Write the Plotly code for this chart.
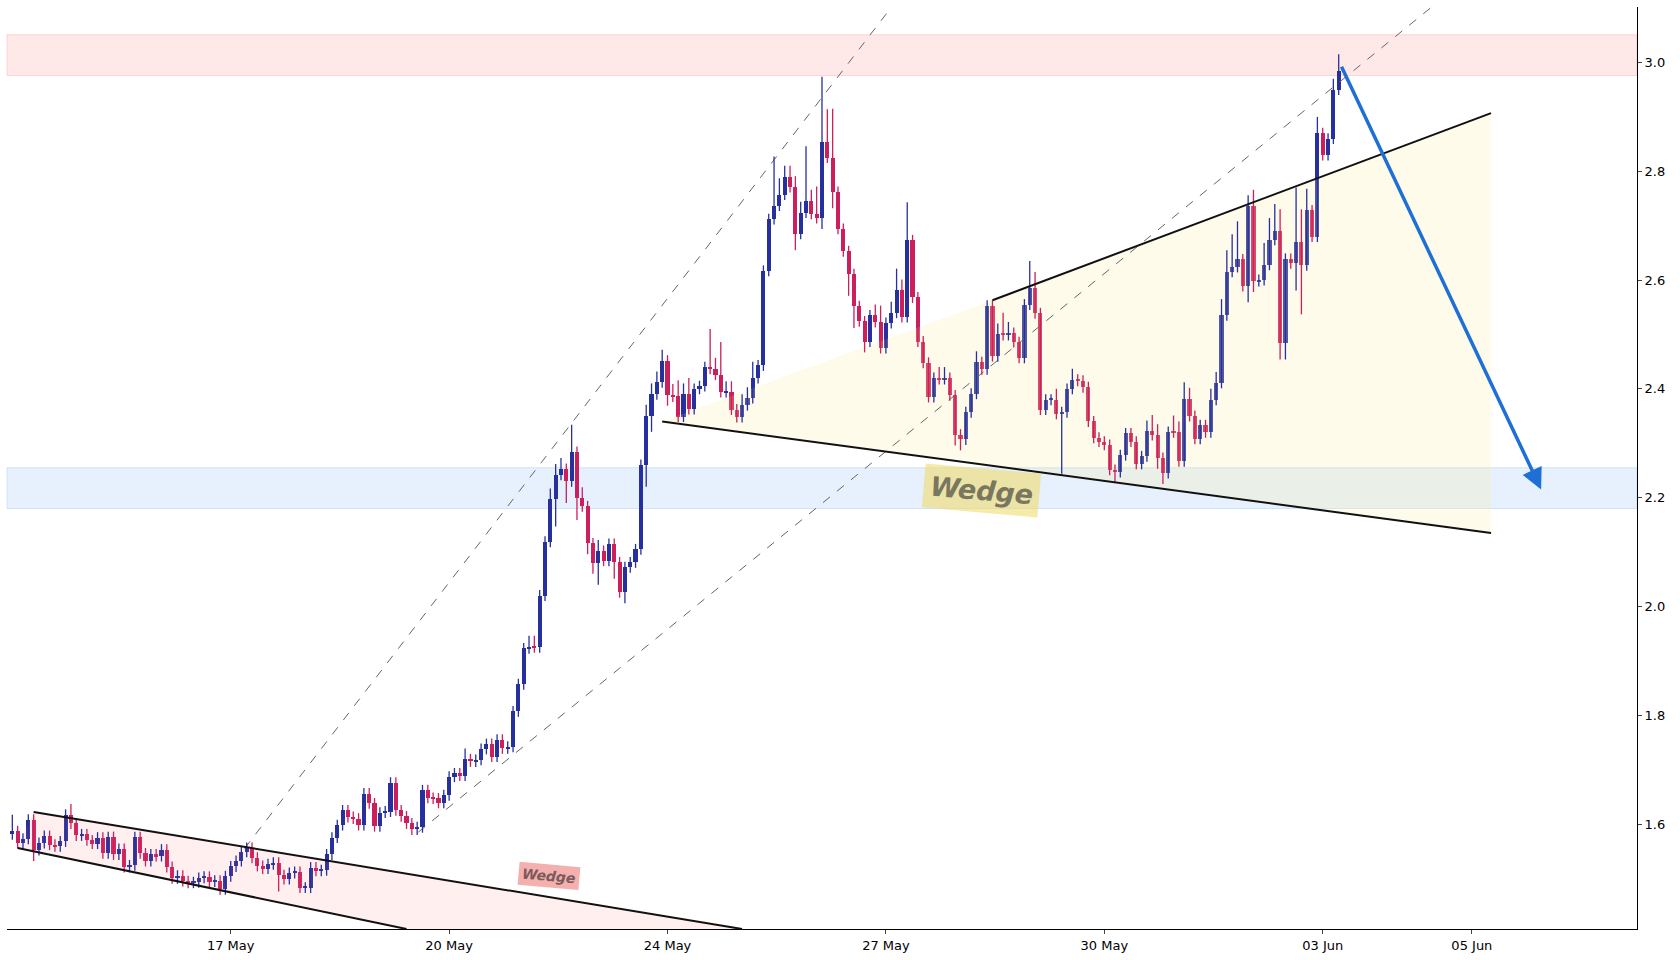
import plotly.graph_objects as go

# candle index positions of the date ticks (41 bars between labels)
tick_pos = [41, 82, 123, 164, 205, 246, 274]
tick_text = ["17 May", "20 May", "24 May", "27 May", "30 May", "03 Jun", "05 Jun"]

close = [
    1.587, 1.565, 1.573, 1.608, 1.552, 1.565, 1.578, 1.562, 1.559, 1.568,
    1.617, 1.601, 1.579, 1.581, 1.570, 1.564, 1.575, 1.546, 1.576, 1.544,
    1.554, 1.521, 1.524, 1.576, 1.546, 1.532, 1.544, 1.541, 1.553, 1.521,
    1.500, 1.505, 1.495, 1.492, 1.493, 1.501, 1.503, 1.494, 1.496, 1.480,
    1.504, 1.522, 1.532, 1.549, 1.556, 1.538, 1.523, 1.518, 1.526, 1.529,
    1.506, 1.499, 1.510, 1.512, 1.483, 1.483, 1.520, 1.514, 1.515, 1.544,
    1.575, 1.598, 1.625, 1.613, 1.610, 1.598, 1.656, 1.638, 1.596, 1.621,
    1.623, 1.676, 1.625, 1.614, 1.601, 1.590, 1.594, 1.662, 1.648, 1.647,
    1.639, 1.653, 1.687, 1.693, 1.689, 1.719, 1.715, 1.718, 1.738, 1.747,
    1.724, 1.755, 1.739, 1.742, 1.807, 1.857, 1.923, 1.926, 1.925, 2.020,
    2.119, 2.197, 2.242, 2.253, 2.230, 2.284, 2.199, 2.184, 2.116, 2.080,
    2.102, 2.084, 2.115, 2.081, 2.026, 2.072, 2.081, 2.105, 2.260, 2.351,
    2.390, 2.412, 2.452, 2.389, 2.386, 2.349, 2.390, 2.363, 2.400, 2.405,
    2.440, 2.437, 2.426, 2.394, 2.394, 2.362, 2.348, 2.370, 2.383, 2.420,
    2.443, 2.617, 2.712, 2.737, 2.757, 2.790, 2.771, 2.685, 2.724, 2.746,
    2.722, 2.714, 2.854, 2.825, 2.762, 2.694, 2.653, 2.611, 2.552, 2.524,
    2.487, 2.535, 2.523, 2.475, 2.521, 2.540, 2.581, 2.532, 2.673, 2.568,
    2.487, 2.448, 2.385, 2.420, 2.418, 2.420, 2.388, 2.316, 2.307, 2.357,
    2.391, 2.449, 2.436, 2.553, 2.460, 2.500, 2.499, 2.503, 2.486, 2.457,
    2.555, 2.585, 2.539, 2.362, 2.380, 2.380, 2.354, 2.357, 2.400, 2.417,
    2.415, 2.403, 2.340, 2.310, 2.303, 2.297, 2.251, 2.247, 2.278, 2.318,
    2.303, 2.262, 2.276, 2.322, 2.315, 2.273, 2.245, 2.321, 2.320, 2.267,
    2.382, 2.350, 2.308, 2.333, 2.320, 2.380, 2.411, 2.535, 2.615, 2.624,
    2.638, 2.589, 2.736, 2.598, 2.600, 2.628, 2.674, 2.690, 2.484, 2.639,
    2.631, 2.670, 2.627, 2.728, 2.680, 2.870, 2.830, 2.860, 2.950, 2.985,
]

# wick lengths in hundredths
upper_wick = [
    3, 1, 1, 1, 1, 1, 1, 1, 1, 1,  1, 2, 1, 1, 1, 1, 1, 1, 1, 1,
    1, 1, 1, 1, 1, 1, 1, 1, 1, 1,  1, 1, 1, 1, 1, 1, 1, 1, 1, 1,
    1, 1, 1, 1, 1, 1, 1, 1, 1, 1,  1, 1, 1, 1, 1, 1, 1, 1, 1, 1,
    1, 1, 1, 1, 1, 1, 1, 1, 1, 1,  1, 1, 1, 1, 1, 1, 1, 1, 1, 1,
    1, 1, 1, 1, 1, 2, 1, 1, 1, 1,  1, 1, 1, 1, 1, 1, 1, 2, 2, 1,
    1, 2, 2, 2, 1, 5, 1, 2, 1, 1,  2, 1, 1, 1, 1, 1, 1, 1, 1, 2,
    2, 2, 2, 1, 2, 3, 2, 3, 1, 1,  1, 7, 2, 6, 2, 2, 1, 2, 2, 3,
    1, 1, 1, 9, 3, 2, 2, 2, 2, 10, 2, 5, 12, 6, 9, 1, 1, 1, 1, 1,
    1, 1, 2, 3, 1, 2, 4, 2, 7, 1,  1, 1, 1, 1, 2, 2, 1, 1, 1, 1,
    1, 2, 1, 1, 1, 2, 4, 2, 1, 1,  1, 5, 3, 1, 1, 1, 2, 1, 1, 2,
    1, 1, 1, 1, 1, 1, 1, 1, 1, 1,  1, 1, 1, 2, 3, 2, 1, 1, 3, 2,
    3, 2, 1, 1, 1, 2, 2, 3, 4, 6,  7, 1, 2, 3, 1, 4, 4, 5, 4, 1,
    1, 10, 6, 4, 1, 3, 1, 1, 2, 3,
]
lower_wick = [
    1, 1, 1, 1, 2, 1, 1, 1, 1, 1,  1, 1, 1, 1, 1, 1, 1, 1, 1, 1,
    1, 1, 1, 1, 1, 1, 1, 1, 1, 1,  1, 1, 1, 1, 1, 1, 1, 1, 1, 1,
    1, 1, 1, 1, 1, 1, 1, 1, 1, 1,  3, 1, 1, 1, 1, 1, 1, 1, 1, 1,
    1, 1, 1, 1, 1, 1, 1, 1, 1, 1,  1, 1, 1, 1, 1, 1, 1, 1, 1, 1,
    1, 1, 1, 1, 1, 1, 1, 1, 1, 1,  1, 1, 1, 1, 1, 1, 1, 1, 1, 1,
    1, 1, 5, 1, 4, 1, 4, 1, 2, 2,  4, 1, 1, 3, 1, 2, 1, 1, 1, 4,
    3, 1, 1, 2, 1, 1, 1, 1, 1, 1,  1, 1, 1, 1, 1, 1, 1, 1, 1, 1,
    1, 1, 1, 1, 1, 1, 1, 3, 1, 1,  1, 1, 2, 1, 3, 1, 1, 4, 4, 1,
    2, 1, 1, 1, 1, 1, 1, 1, 1, 1,  1, 1, 1, 1, 1, 1, 1, 2, 2, 1,
    1, 1, 1, 1, 1, 1, 1, 1, 1, 1,  1, 1, 1, 1, 1, 1, 1, 11, 1, 1,
    1, 1, 1, 1, 1, 1, 1, 2, 1, 1,  1, 1, 1, 1, 1, 2, 2, 1, 1, 1,
    1, 1, 1, 1, 1, 1, 1, 1, 1, 1,  1, 1, 3, 2, 1, 1, 1, 1, 3, 3,
    1, 5, 9, 1, 1, 1, 1, 1, 1, 1,
]

n = len(close)
upper_wick = (upper_wick + [1] * n)[:n]
lower_wick = (lower_wick + [1] * n)[:n]
opens = [1.581] + close[:-1]
highs = [max(o, c) + u / 100 for o, c, u in zip(opens, close, upper_wick)]
lows = [min(o, c) - l / 100 for o, c, l in zip(opens, close, lower_wick)]

# pattern geometry (candle index, price)
lower_wedge_top = [(4, 1.622), (137, 1.407)]
lower_wedge_bot = [(1, 1.556), (74, 1.407)]
upper_wedge_top = [(184, 2.563), (277.6, 2.907)]
upper_wedge_bot = [(122, 2.340), (277.6, 2.135)]
channel_a = [(43.6, 1.555), (164.9, 3.10)]
channel_b = [(76.2, 1.585), (266.2, 3.10)]
arrow = [(249.4, 2.995), (287.0, 2.215)]
resist_zone = (2.976, 3.051)
support_zone = (2.180, 2.255)

UP = "#26309e"
DOWN = "#cc1f5e"

fig = go.Figure()

fig.add_hrect(y0=resist_zone[0], y1=resist_zone[1], fillcolor="rgba(255,80,80,0.13)",
              line=dict(color="rgba(255,80,80,0.2)", width=1), layer="below")
fig.add_hrect(y0=support_zone[0], y1=support_zone[1], fillcolor="rgba(60,150,240,0.13)",
              line=dict(color="rgba(60,150,240,0.2)", width=1), layer="below")

# wedge fills
lw = [lower_wedge_top[0], lower_wedge_top[1], lower_wedge_bot[1], lower_wedge_bot[0]]
fig.add_trace(go.Scatter(x=[p[0] for p in lw] + [lw[0][0]], y=[p[1] for p in lw] + [lw[0][1]],
                         fill="toself", fillcolor="rgba(255,120,120,0.12)", line=dict(width=0),
                         mode="lines", hoverinfo="skip", showlegend=False))
uw = [upper_wedge_bot[0], upper_wedge_top[0], upper_wedge_top[1], upper_wedge_bot[1]]
fig.add_trace(go.Scatter(x=[p[0] for p in uw] + [uw[0][0]], y=[p[1] for p in uw] + [uw[0][1]],
                         fill="toself", fillcolor="rgba(250,235,160,0.22)", line=dict(width=0),
                         mode="lines", hoverinfo="skip", showlegend=False))

for seg in (channel_a, channel_b):
    fig.add_trace(go.Scatter(x=[p[0] for p in seg], y=[p[1] for p in seg], mode="lines",
                             line=dict(color="#666", width=1, dash="dash"),
                             hoverinfo="skip", showlegend=False))

# candles: wicks as broken lines, bodies as floating bars
for color, is_up in ((UP, True), (DOWN, False)):
    sel = [i for i in range(n) if (close[i] >= opens[i]) == is_up]
    wx, wy = [], []
    for i in sel:
        wx += [i, i, None]
        wy += [lows[i], highs[i], None]
    fig.add_trace(go.Scatter(x=wx, y=wy, mode="lines", line=dict(color=color, width=1.3),
                             hoverinfo="skip", showlegend=False))
    fig.add_trace(go.Bar(x=sel, base=[min(opens[i], close[i]) for i in sel],
                         y=[max(abs(close[i] - opens[i]), 0.002) for i in sel],
                         width=0.78, marker=dict(color=color, line=dict(width=0)),
                         showlegend=False))

for seg in (lower_wedge_top, lower_wedge_bot, upper_wedge_top, upper_wedge_bot):
    fig.add_trace(go.Scatter(x=[p[0] for p in seg], y=[p[1] for p in seg], mode="lines",
                             line=dict(color="#111", width=2), hoverinfo="skip", showlegend=False))

fig.add_annotation(x=arrow[1][0], y=arrow[1][1], ax=arrow[0][0], ay=arrow[0][1],
                   xref="x", yref="y", axref="x", ayref="y", text="", showarrow=True,
                   arrowhead=2, arrowsize=1.2, arrowwidth=3.5, arrowcolor="#1e6fd6")

fig.add_annotation(x=182, y=2.213, text="<b><i>Wedge</i></b>", showarrow=False, textangle=5,
                   font=dict(size=27, color="#7a7760", family="DejaVu Sans"),
                   bgcolor="rgba(240,220,110,0.6)", borderpad=6)
fig.add_annotation(x=100.8, y=1.505, text="<b><i>Wedge</i></b>", showarrow=False, textangle=5,
                   font=dict(size=14, color="#7a5a5a", family="DejaVu Sans"),
                   bgcolor="rgba(235,110,110,0.55)", borderpad=3)

fig.update_layout(
    width=1680, height=960,
    margin=dict(l=7, r=43, t=7, b=31),
    paper_bgcolor="white", plot_bgcolor="white",
    font=dict(family="DejaVu Sans", size=13, color="black"),
    barmode="overlay", bargap=0,
    xaxis=dict(range=[-1, 305], tickvals=tick_pos, ticktext=tick_text, showgrid=False,
               zeroline=False, showline=True, linecolor="black", linewidth=1,
               ticks="outside", ticklen=4),
    yaxis=dict(range=[1.407, 3.102], side="right", tickvals=[1.6, 1.8, 2.0, 2.2, 2.4, 2.6, 2.8, 3.0],
               ticktext=["1.6", "1.8", "2.0", "2.2", "2.4", "2.6", "2.8", "3.0"],
               showgrid=False, zeroline=False, showline=True, linecolor="black", linewidth=1,
               ticks="outside", ticklen=4),
)

fig.write_html("out.html", config={"displayModeBar": False},
               post_script="document.body.style.margin='0';")
